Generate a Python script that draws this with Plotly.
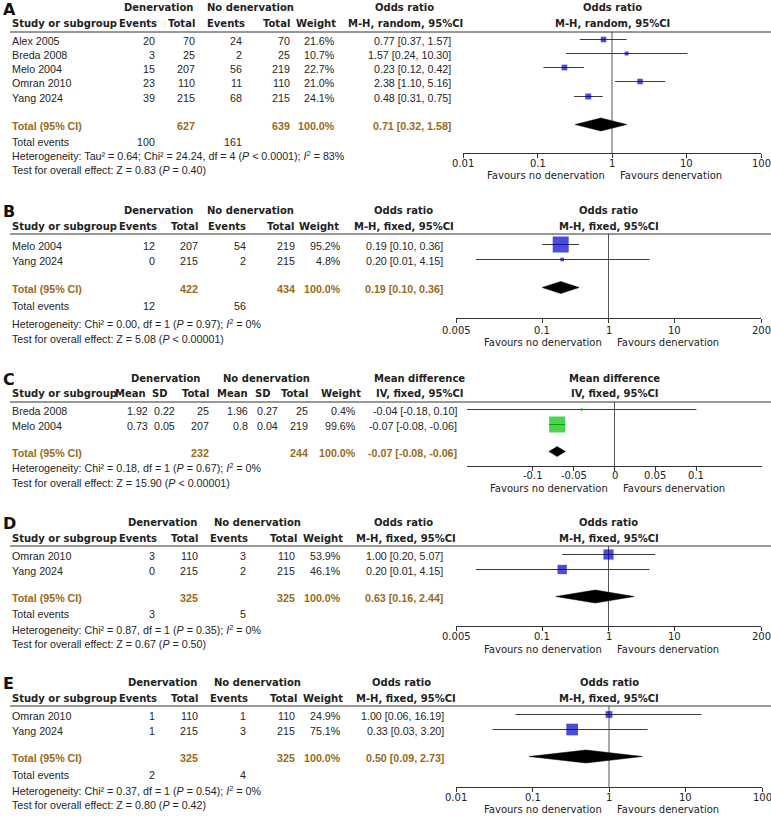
import math
import plotly.graph_objects as go

W, H = 771, 820

# ------------------------------------------------------------------ data
# Panel A  (odds ratio, M-H random)
A_study = ["Alex 2005", "Breda 2008", "Melo 2004", "Omran 2010", "Yang 2024"]
A_den_ev = [20, 3, 15, 23, 39]
A_den_n = [70, 25, 207, 110, 215]
A_ctl_ev = [24, 2, 56, 11, 68]
A_ctl_n = [70, 25, 219, 110, 215]
A_weight = [21.6, 10.7, 22.7, 21.0, 24.1]
A_est = [0.77, 1.57, 0.23, 2.38, 0.48]
A_lo = [0.37, 0.24, 0.12, 1.10, 0.31]
A_hi = [1.57, 10.30, 0.42, 5.16, 0.75]
A_tot_n = [627, 639]
A_tot_ci = [0.71, 0.32, 1.58]
A_tot_ev = [100, 161]
A_het = "Heterogeneity: Tau² = 0.64; Chi² = 24.24, df = 4 (<i>P</i> &lt; 0.0001); <i>I</i><sup>2</sup> = 83%"
A_test = "Test for overall effect: Z = 0.83 (<i>P</i> = 0.40)"
A_ticks = [0.01, 0.1, 1, 10, 100]

# Panel B  (odds ratio, M-H fixed)
B_study = ["Melo 2004", "Yang 2024"]
B_den_ev = [12, 0]
B_den_n = [207, 215]
B_ctl_ev = [54, 2]
B_ctl_n = [219, 215]
B_weight = [95.2, 4.8]
B_est = [0.19, 0.20]
B_lo = [0.10, 0.01]
B_hi = [0.36, 4.15]
B_tot_n = [422, 434]
B_tot_ci = [0.19, 0.10, 0.36]
B_tot_ev = [12, 56]
B_het = "Heterogeneity: Chi² = 0.00, df = 1 (<i>P</i> = 0.97); <i>I</i><sup>2</sup> = 0%"
B_test = "Test for overall effect: Z = 5.08 (<i>P</i> &lt; 0.00001)"
B_ticks = [0.005, 0.1, 1, 10, 200]

# Panel C  (mean difference, IV fixed)
C_study = ["Breda 2008", "Melo 2004"]
C_den_mean = [1.92, 0.73]
C_den_sd = [0.22, 0.05]
C_den_n = [25, 207]
C_ctl_mean = [1.96, 0.8]
C_ctl_sd = [0.27, 0.04]
C_ctl_n = [25, 219]
C_weight = [0.4, 99.6]
C_est = [-0.04, -0.07]
C_lo = [-0.18, -0.08]
C_hi = [0.10, -0.06]
C_tot_n = [232, 244]
C_tot_ci = [-0.07, -0.08, -0.06]
C_het = "Heterogeneity: Chi² = 0.18, df = 1 (<i>P</i> = 0.67); <i>I</i><sup>2</sup> = 0%"
C_test = "Test for overall effect: Z = 15.90 (<i>P</i> &lt; 0.00001)"
C_ticks = [-0.1, -0.05, 0, 0.05, 0.1]

# Panel D  (odds ratio, M-H fixed)
D_study = ["Omran 2010", "Yang 2024"]
D_den_ev = [3, 0]
D_den_n = [110, 215]
D_ctl_ev = [3, 2]
D_ctl_n = [110, 215]
D_weight = [53.9, 46.1]
D_est = [1.00, 0.20]
D_lo = [0.20, 0.01]
D_hi = [5.07, 4.15]
D_tot_n = [325, 325]
D_tot_ci = [0.63, 0.16, 2.44]
D_tot_ev = [3, 5]
D_het = "Heterogeneity: Chi² = 0.87, df = 1 (<i>P</i> = 0.35); <i>I</i><sup>2</sup> = 0%"
D_test = "Test for overall effect: Z = 0.67 (<i>P</i> = 0.50)"
D_ticks = [0.005, 0.1, 1, 10, 200]

# Panel E  (odds ratio, M-H fixed)
E_study = ["Omran 2010", "Yang 2024"]
E_den_ev = [1, 1]
E_den_n = [110, 215]
E_ctl_ev = [1, 3]
E_ctl_n = [110, 215]
E_weight = [24.9, 75.1]
E_est = [1.00, 0.33]
E_lo = [0.06, 0.03]
E_hi = [16.19, 3.20]
E_tot_n = [325, 325]
E_tot_ci = [0.50, 0.09, 2.73]
E_tot_ev = [2, 4]
E_het = "Heterogeneity: Chi² = 0.37, df = 1 (<i>P</i> = 0.54); <i>I</i><sup>2</sup> = 0%"
E_test = "Test for overall effect: Z = 0.80 (<i>P</i> = 0.42)"
E_ticks = [0.01, 0.1, 1, 10, 100]

# ------------------------------------------------------------------ style
BODY = "Liberation Sans, Arial, sans-serif"
HEAD = "DejaVu Sans, Verdana, sans-serif"
TXT = "#262626"
TOT = "#9a6a20"
BLUE = "#0000c8"
GREEN = "#00c000"
LINEC = "#3c3c3c"

ann = []
shapes = []
traces = []
lay = {}


def P(x):
    return x / W


def Q(y):
    return 1 - y / H


def text(x, y, s, anchor="left", font=BODY, size=10.7, color=TXT, bold=False, xref="paper"):
    if bold:
        s = "<b>" + s + "</b>"
    ann.append(dict(x=P(x) if xref == "paper" else x, y=Q(y), xref=xref, yref="paper", text=s,
                    showarrow=False, xanchor=anchor, yanchor="middle",
                    font=dict(family=font, size=size, color=color)))


def fmt_ci(e, l, h):
    return f"{e:.2f} [{l:.2f}, {h:.2f}]"


def panel(i, letter, L, study, cols, weight, est, lo, hi, tot_n, tot_ci,
          tot_ev, het, test, ticks, log, sq_color, h1_titles, h2_cols):
    xr = "x" if i == 1 else f"x{i}"
    yr = "y" if i == 1 else f"y{i}"
    xa = "xaxis" if i == 1 else f"xaxis{i}"
    ya = "yaxis" if i == 1 else f"yaxis{i}"

    # panel letter
    text(1, L["letter"], letter, font=HEAD, size=16, color="#111", bold=True)
    # header row 1
    for s, cx in h1_titles:
        text(cx, L["h1"], s, anchor="center", font=HEAD, size=10, color="#222", bold=True)
    text((L["x0"] + L["x1"]) / 2, L["h1"], h1_titles[-1][0], anchor="center",
         font=HEAD, size=10, color="#222", bold=True)
    # header row 2
    text(10, L["h2"], "Study or subgroup", font=HEAD, size=10, color="#222", bold=True)
    for s, rx in h2_cols:
        text(rx, L["h2"], s, anchor="right", font=HEAD, size=10, color="#222", bold=True)
    text(L["ci_c"], L["h2"], L["method"], anchor="center", font=HEAD, size=10, color="#222", bold=True)
    text((L["x0"] + L["x1"]) / 2, L["h2"], L["method"], anchor="center",
         font=HEAD, size=10, color="#222", bold=True)
    shapes.append(dict(type="line", xref="paper", yref="paper", x0=P(10), x1=1,
                       y0=Q(L["line"]), y1=Q(L["line"]), line=dict(color="#333", width=1)))

    # study rows
    for k, name in enumerate(study):
        y = L["rows"][k]
        text(10, y, name)
        for c, rx in zip(cols, L["dcols"]):
            v = c[k]
            text(rx, y, f"{v:g}" if isinstance(v, float) else str(v), anchor="right")
        text(L["wx"], y, f"{weight[k]:.1f}%", anchor="right")
        text(L["cx"], y, fmt_ci(est[k], lo[k], hi[k]), anchor="right")
    # total row
    y = L["total"]
    text(10, y, "Total (95% CI)", color=TOT, bold=True)
    text(L["dcols"][L["ntot_idx"][0]], y, str(tot_n[0]), anchor="right", color=TOT, bold=True)
    text(L["dcols"][L["ntot_idx"][1]], y, str(tot_n[1]), anchor="right", color=TOT, bold=True)
    text(L["wx"], y, "100.0%", anchor="right", color=TOT, bold=True)
    text(L["cx"], y, fmt_ci(*tot_ci), anchor="right", color=TOT, bold=True)
    if tot_ev is not None:
        text(10, L["te"], "Total events")
        text(L["dcols"][0], L["te"], str(tot_ev[0]), anchor="right")
        text(L["dcols"][2], L["te"], str(tot_ev[1]), anchor="right")
    text(10, L["het"], het)
    text(10, L["test"], test)

    # axes
    null = 1 if log else 0
    if log:
        rng = [math.log10(L["range"][0]), math.log10(L["range"][1])]
    else:
        rng = L["range"]
    lay[xa] = dict(domain=[P(L["x0"]), P(L["x1"])], type="log" if log else "linear",
                   range=rng, anchor=yr, showline=True, linecolor="#333", linewidth=1,
                   ticks="outside", ticklen=4, tickcolor="#333", tickwidth=1,
                   tickmode="array", tickvals=ticks, showticklabels=False,
                   showgrid=False, zeroline=False, fixedrange=True)
    lay[ya] = dict(domain=[Q(L["axis"]), Q(L["line"])], range=[L["axis"], L["line"]],
                   visible=False, anchor=xr, fixedrange=True)
    # tick labels placed through the x axis scale
    for t in ticks:
        text(math.log10(t) if log else t, L["tl"], f"{t:g}", anchor="center",
             font=HEAD, size=10, color="#222", xref=xr)

    # null line
    traces.append(go.Scatter(x=[null, null], y=[L["line"], L["axis"]], mode="lines",
                             line=dict(color="#555", width=1), xaxis=xr, yaxis=yr,
                             hoverinfo="skip", showlegend=False))
    # CI lines
    xs, ys = [], []
    for k in range(len(study)):
        xs += [lo[k], hi[k], None]
        ys += [L["rows"][k] - L["dy"]] * 2 + [None]
    traces.append(go.Scatter(x=xs, y=ys, mode="lines", line=dict(color=LINEC, width=1),
                             xaxis=xr, yaxis=yr, hoverinfo="skip", showlegend=False))
    # squares
    traces.append(go.Scatter(x=est, y=[r - L["dy"] for r in L["rows"]], mode="markers",
                             marker=dict(symbol="square", color=sq_color, line=dict(width=0),
                                         size=[max(2.5, L["k"] * math.sqrt(w)) for w in weight]),
                             xaxis=xr, yaxis=yr, hoverinfo="skip", showlegend=False))
    # diamond
    e, l, h = tot_ci
    yc = L["total"] - L["dy"]
    dh = L["dh"]
    traces.append(go.Scatter(x=[l, e, h, e, l], y=[yc, yc - dh, yc, yc + dh, yc],
                             mode="lines", fill="toself", fillcolor="black",
                             line=dict(color="black", width=0.5), xaxis=xr, yaxis=yr,
                             hoverinfo="skip", showlegend=False))
    # favours labels
    nx = L["x0"] + (L["x1"] - L["x0"]) * ((math.log10(null) if log else null) - rng[0]) / (rng[1] - rng[0])
    text(nx - 5, L["fav"], "Favours no denervation", anchor="right", font=HEAD, size=10, color="#222")
    text(nx + 6, L["fav"], "Favours denervation", anchor="left", font=HEAD, size=10, color="#222")


# ------------------------------------------------------------------ layout per panel
LA = dict(letter=9, h1=7, h2=23, line=32, rows=[41, 55, 69, 83, 98], total=126, te=142,
          het=156, test=170, axis=153, tl=164, fav=176, x0=463, x1=761, range=[0.01, 100],
          dcols=[157, 197, 244, 292], ntot_idx=[1, 3], wx=337, cx=453, ci_c=405,
          method="M-H, random, 95%CI", k=1.2, dh=6.5, dy=1.5)
LB = dict(letter=211, h1=210, h2=226, line=234, rows=[246, 261], total=289, te=306,
          het=323, test=339, axis=318, tl=330, fav=343, x0=456, x1=761, range=[0.005, 200],
          dcols=[157, 200, 248, 297], ntot_idx=[1, 3], wx=343, cx=445, ci_c=404,
          method="M-H, fixed, 95%CI", k=1.64, dh=6, dy=1.5)
LC = dict(letter=379, h1=378, h2=393, line=402, rows=[411, 426], total=453, te=None,
          het=468, test=483, axis=466, tl=476, fav=488, x0=467, x1=762, range=[-0.18, 0.18],
          dcols=[150, 177, 211, 250, 280, 310], ntot_idx=[2, 5], wx=358, cx=459, ci_c=420,
          method="IV, fixed, 95%CI", k=1.6, dh=5, dy=1.5)
LD = dict(letter=523, h1=522, h2=538, line=546, rows=[556, 571], total=598, te=614,
          het=629, test=644, axis=626, tl=636, fav=649, x0=456, x1=761, range=[0.005, 200],
          dcols=[157, 200, 248, 297], ntot_idx=[1, 3], wx=343, cx=445, ci_c=406,
          method="M-H, fixed, 95%CI", k=1.38, dh=6.5, dy=1.5)
LE = dict(letter=683, h1=682, h2=698, line=706, rows=[716, 731], total=758, te=775,
          het=790, test=805, axis=787, tl=797, fav=809, x0=456, x1=762, range=[0.01, 100],
          dcols=[157, 200, 248, 297], ntot_idx=[1, 3], wx=343, cx=446, ci_c=406,
          method="M-H, fixed, 95%CI", k=1.35, dh=6.5, dy=1.5)

panel(1, "A", LA, A_study, [A_den_ev, A_den_n, A_ctl_ev, A_ctl_n], A_weight, A_est, A_lo, A_hi,
      A_tot_n, A_tot_ci, A_tot_ev, A_het, A_test, A_ticks, True, BLUE,
      [("Denervation", 158), ("No denervation", 250), ("Odds ratio", 404)],
      [("Events", 159), ("Total", 197), ("Events", 247), ("Total", 292), ("Weight", 338)])
panel(2, "B", LB, B_study, [B_den_ev, B_den_n, B_ctl_ev, B_ctl_n], B_weight, B_est, B_lo, B_hi,
      B_tot_n, B_tot_ci, B_tot_ev, B_het, B_test, B_ticks, True, BLUE,
      [("Denervation", 158), ("No denervation", 250), ("Odds ratio", 403)],
      [("Events", 159), ("Total", 200), ("Events", 248), ("Total", 296), ("Weight", 341)])
panel(3, "C", LC, C_study, [C_den_mean, C_den_sd, C_den_n, C_ctl_mean, C_ctl_sd, C_ctl_n],
      C_weight, C_est, C_lo, C_hi, C_tot_n, C_tot_ci, None, C_het, C_test, C_ticks, False, GREEN,
      [("Denervation", 165), ("No denervation", 266), ("Mean difference", 420)],
      [("Mean", 148), ("SD", 170), ("Total", 211), ("Mean", 250), ("SD", 273), ("Total", 310),
       ("Weight", 363)])
panel(4, "D", LD, D_study, [D_den_ev, D_den_n, D_ctl_ev, D_ctl_n], D_weight, D_est, D_lo, D_hi,
      D_tot_n, D_tot_ci, D_tot_ev, D_het, D_test, D_ticks, True, BLUE,
      [("Denervation", 162), ("No denervation", 257), ("Odds ratio", 403)],
      [("Events", 159), ("Total", 200), ("Events", 250), ("Total", 299), ("Weight", 345)])
panel(5, "E", LE, E_study, [E_den_ev, E_den_n, E_ctl_ev, E_ctl_n], E_weight, E_est, E_lo, E_hi,
      E_tot_n, E_tot_ci, E_tot_ev, E_het, E_test, E_ticks, True, BLUE,
      [("Denervation", 162), ("No denervation", 257), ("Odds ratio", 401)],
      [("Events", 159), ("Total", 200), ("Events", 250), ("Total", 299), ("Weight", 345)])

fig = go.Figure(data=traces)
fig.update_layout(width=W, height=H, autosize=False, margin=dict(l=0, r=0, t=0, b=0),
                  paper_bgcolor="white", plot_bgcolor="white", showlegend=False,
                  annotations=ann, shapes=shapes, **lay)
fig.write_html("out.html", config={"displayModeBar": False, "staticPlot": True},
               post_script="document.body.style.margin='0';document.body.style.overflow='hidden';")
